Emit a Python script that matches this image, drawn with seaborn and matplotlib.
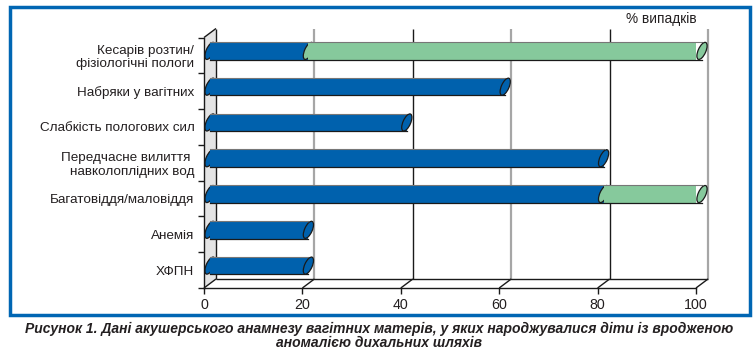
import seaborn as sns
import matplotlib.pyplot as plt
from matplotlib.patches import Ellipse, Polygon, Rectangle
from matplotlib.transforms import Affine2D, ScaledTranslation

# data (% of cases)
categories = ['Кесарів розтин/\nфізіологічні пологи', 'Набряки у вагітних',
              'Слабкість пологових сил', 'Передчасне вилиття \nнавколоплідних вод',
              'Багатовіддя/маловіддя', 'Анемія', 'ХФПН']
blue_part = [20, 60, 40, 80, 80, 20, 20]
green_part = [80, 0, 0, 0, 20, 0, 0]
x_ticks = [0, 20, 40, 60, 80, 100]

BLUE = '#0061ad'
GREEN = '#86c99c'
TXT = '#231f20'

plt.rcParams['font.family'] = ['Liberation Sans', 'DejaVu Sans']

W, H = 755, 351
fig = plt.figure(figsize=(W / 100, H / 100), dpi=100)
ax_left, ax_right, ax_top, ax_bot = 204, 696, 37.5, 288
ax = fig.add_axes([ax_left / W, (H - ax_bot) / H, (ax_right - ax_left) / W, (ax_bot - ax_top) / H])

# 3D depth of the excel-style chart, in pixels
DX, DY = 12, 9
dxd = DX * 100 / (ax_right - ax_left)
dyd = DY * 7 / (ax_bot - ax_top)

bar_h = 0.49
sns.barplot(x=blue_part, y=categories, orient='h', color=BLUE, saturation=1,
            width=bar_h, edgecolor='none', ax=ax, zorder=3)
ax.barh(range(len(categories)), green_part, left=blue_part, height=bar_h,
        color=GREEN, edgecolor='none', zorder=5)

mid = Affine2D().translate(DX / 2, DY / 2)
for p in ax.patches:
    p.set_transform(ax.transData + mid)


def cap(x, y, color, z, lw=0.9):
    tr = Affine2D().scale(3.8, 9.2).rotate_deg(-24) + ScaledTranslation(x, y, ax.transData) + mid
    ax.add_patch(Ellipse((0, 0), 2, 2, transform=tr, facecolor=color,
                         edgecolor='#1a1a1a', lw=lw, zorder=z, clip_on=False))


for i, (b, g) in enumerate(zip(blue_part, green_part)):
    cap(0, i, BLUE, 2)
    end = b + g
    ax.plot([0, end], [i - bar_h / 2] * 2, color='#777777', lw=0.8, zorder=5.5,
            transform=ax.transData + mid, clip_on=False)
    ax.plot([0, end], [i + bar_h / 2] * 2, color='#1a1a1a', lw=0.9, zorder=5.5,
            transform=ax.transData + mid, clip_on=False)
    if g > 0:
        cap(b, i, GREEN, 4)
        cap(end, i, GREEN, 6)
    else:
        cap(b, i, BLUE, 6)

ax.set_xlim(0, 100)
ax.set_ylim(6.5, -0.5)

# side wall, back wall grid and floor
top, bot = -0.5, 6.5
ax.add_patch(Polygon([(0, top), (dxd, top - dyd), (dxd, bot - dyd), (0, bot)],
                     closed=True, facecolor='#e4e4e4', edgecolor='none', zorder=0, clip_on=False))
line_kw = dict(clip_on=False, solid_capstyle='butt')
ax.plot([0, dxd], [top, top - dyd], color='#1a1a1a', lw=1, zorder=1, **line_kw)
for k, x in enumerate(x_ticks):
    col = '#1a1a1a' if k % 2 == 0 else '#a6a6a6'
    lw = 1 if k % 2 == 0 else 1.6
    ax.plot([x + dxd, x + dxd], [top - dyd, bot - dyd], color=col, lw=lw, zorder=1, **line_kw)
    ax.plot([x, x + dxd], [bot, bot - dyd], color='#1a1a1a', lw=1, zorder=1, **line_kw)
ax.plot([dxd, 100 + dxd], [bot - dyd, bot - dyd], color='#1a1a1a', lw=1, zorder=1, **line_kw)

for s in ['top', 'right']:
    ax.spines[s].set_visible(False)
for s in ['left', 'bottom']:
    ax.spines[s].set_color('#1a1a1a')
    ax.spines[s].set_linewidth(1)

ax.set_xticks(x_ticks)
ax.set_xticklabels([str(v) for v in x_ticks])
ax.set_xlabel('')
ax.set_ylabel('')
ax.set_yticks([i + 0.5 for i in range(-1, 7)], minor=True)
ax.tick_params(axis='y', which='major', length=0, pad=7, labelsize=9.7, labelcolor=TXT)
ax.tick_params(axis='y', which='minor', length=4, width=1, color='#1a1a1a')
ax.tick_params(axis='x', length=4, width=1, color='#1a1a1a', pad=3, labelsize=10.3, labelcolor=TXT)
for t in ax.get_yticklabels():
    t.set_linespacing(1.15)

fig.text(697 / W, 1 - 19 / H, '% випадків', ha='right', va='center', fontsize=9.8, color=TXT)

fig.text(379 / W, 1 - 336 / H,
         'Рисунок 1. Дані акушерського анамнезу вагітних матерів, у яких народжувалися діти із вродженою\n'
         'аномалією дихальних шляхів',
         ha='center', va='center', ma='center', fontsize=10, fontweight='bold', fontstyle='italic',
         color=TXT, linespacing=1.05)

fig.patches.append(Rectangle((10 / W, 1 - 315 / H), 740 / W, 308 / H, transform=fig.transFigure,
                             fill=False, edgecolor='#0066b3', lw=2.5))

fig.savefig('out.png', dpi=100)
